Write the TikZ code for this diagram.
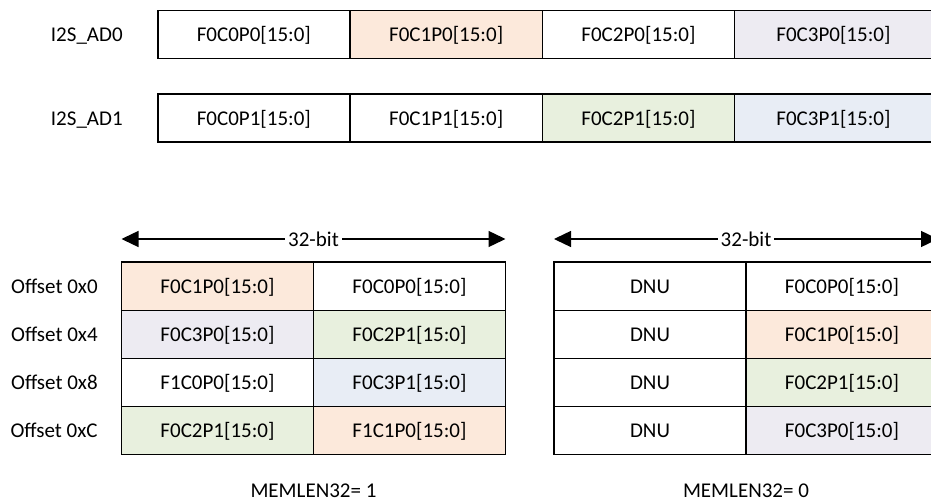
\documentclass[tikz,border=0pt]{standalone}
\usepackage{fontspec}
\setmainfont{Carlito}
\usepackage{tikz}
\usepackage{xcolor}
\usetikzlibrary{arrows.meta,positioning}
\definecolor{Peach}{HTML}{FCE9DB}
\definecolor{Lilac}{HTML}{EDEBF2}
\definecolor{Sage}{HTML}{E8F0DE}
\definecolor{Mist}{HTML}{E8EDF5}

\begin{document}
\begin{tikzpicture}[
  x=0.5pt,y=-0.5pt,
  cell/.style={draw=black,line width=0.8pt,minimum width=96.15pt,minimum height=24pt,inner sep=0pt,outer sep=0pt,text height=6.8pt,text depth=0pt,font=\fontsize{10.5}{12.6}\selectfont},
  lastcell/.style={cell,minimum width=98.8pt},
  memcell/.style={cell,minimum width=96pt},
  lbl/.style={inner sep=0pt,outer sep=0pt,text height=6.8pt,text depth=0pt,font=\fontsize{10.5}{12.6}\selectfont},
  span/.style={{Triangle[length=8.5pt,width=8pt]}-{Triangle[length=8.5pt,width=8pt]},line width=0.7pt},
  tag/.style={fill=white,inner xsep=1.5pt,inner ysep=1pt,font=\fontsize{10.5}{12.6}\selectfont}
]
\clip (0,0) rectangle (931,502);
% serial data lines
\node[cell,anchor=north west] (a0c0) at (157.7,10.7) {F0C0P0[15:0]};
\node[cell,fill=Peach,right=0pt of a0c0] (a0c1) {F0C1P0[15:0]};
\node[cell,right=0pt of a0c1] (a0c2) {F0C2P0[15:0]};
\node[lastcell,fill=Lilac,right=0pt of a0c2] (a0c3) {F0C3P0[15:0]};
\node[lbl,left=17.5pt of a0c0] (ad0) {I2S\_AD0};

\node[cell,anchor=north west] (a1c0) at (157.7,94.3) {F0C0P1[15:0]};
\node[cell,right=0pt of a1c0] (a1c1) {F0C1P1[15:0]};
\node[cell,fill=Sage,right=0pt of a1c1] (a1c2) {F0C2P1[15:0]};
\node[lastcell,fill=Mist,right=0pt of a1c2] (a1c3) {F0C3P1[15:0]};
\node[lbl,left=17.5pt of a1c0] (ad1) {I2S\_AD1};

% memory, MEMLEN32 = 1
\node[memcell,fill=Peach,anchor=north west] (l0c0) at (121.5,262.3) {F0C1P0[15:0]};
\node[memcell,right=0pt of l0c0] (l0c1) {F0C0P0[15:0]};
\node[memcell,fill=Lilac,below=0pt of l0c0] (l1c0) {F0C3P0[15:0]};
\node[memcell,fill=Sage,right=0pt of l1c0] (l1c1) {F0C2P1[15:0]};
\node[memcell,below=0pt of l1c0] (l2c0) {F1C0P0[15:0]};
\node[memcell,fill=Mist,right=0pt of l2c0] (l2c1) {F0C3P1[15:0]};
\node[memcell,fill=Sage,below=0pt of l2c0] (l3c0) {F0C2P1[15:0]};
\node[memcell,fill=Peach,right=0pt of l3c0] (l3c1) {F1C1P0[15:0]};

\node[lbl,left=11.9pt of l0c0] (off0) {Offset 0x0};
\node[lbl,left=11.9pt of l1c0] (off4) {Offset 0x4};
\node[lbl,left=11.9pt of l2c0] (off8) {Offset 0x8};
\node[lbl,left=11.9pt of l3c0] (offc) {Offset 0xC};

\draw[span] ([yshift=11.65pt]l0c0.north west) -- node[tag] (bitl) {32-bit} ([yshift=11.65pt]l0c1.north east);
\node[lbl,anchor=base] (mem1) at ([yshift=-21.6pt]l3c0.south east) {MEMLEN32= 1};

% memory, MEMLEN32 = 0
\node[memcell,anchor=north west] (r0c0) at (554,262.3) {DNU};
\node[memcell,right=0pt of r0c0] (r0c1) {F0C0P0[15:0]};
\node[memcell,below=0pt of r0c0] (r1c0) {DNU};
\node[memcell,fill=Peach,right=0pt of r1c0] (r1c1) {F0C1P0[15:0]};
\node[memcell,below=0pt of r1c0] (r2c0) {DNU};
\node[memcell,fill=Sage,right=0pt of r2c0] (r2c1) {F0C2P1[15:0]};
\node[memcell,below=0pt of r2c0] (r3c0) {DNU};
\node[memcell,fill=Lilac,right=0pt of r3c0] (r3c1) {F0C3P0[15:0]};

\draw[span] ([yshift=11.65pt]r0c0.north west) -- node[tag] (bitr) {32-bit} ([yshift=11.65pt]r0c1.north east);
\node[lbl,anchor=base] (mem0) at ([yshift=-21.6pt]r3c0.south east) {MEMLEN32= 0};
\end{tikzpicture}
\end{document}
